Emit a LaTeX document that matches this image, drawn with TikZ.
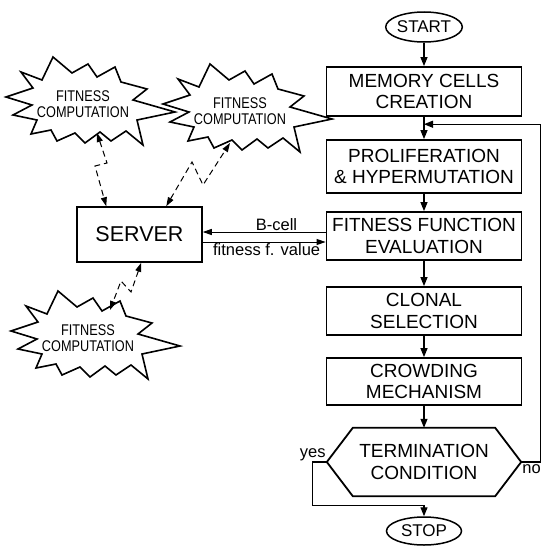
\documentclass[tikz,border=0pt]{standalone}
\usepackage{fontspec}
\setmainfont{Liberation Sans}
\newfontfamily\narrowsans[FakeStretch=0.82]{Liberation Sans}
\usetikzlibrary{arrows.meta,calc,shapes.geometric}

\newcommand\flowfont{\fontsize{19}{21.5}\selectfont}
\newcommand\termfont{\fontsize{17}{19}\selectfont}
\newcommand\srvfont{\fontsize{21.5}{24}\selectfont}
\newcommand\burstfont{\narrowsans\fontsize{15.5}{16}\selectfont}
\newcommand\labfont{\fontsize{16.5}{19}\selectfont}

\tikzset{
  stepbox/.style={draw, line width=1.8pt, minimum width=195pt, minimum height=49pt,
    inner sep=0pt, align=center, font=\flowfont},
  terminal/.style={draw, ellipse, line width=1.5pt, minimum width=75pt,
    minimum height=30pt, inner sep=0pt, font=\termfont},
  decision/.style={minimum width=194pt, minimum height=68pt, inner sep=0pt,
    align=center, font=\flowfont},
  outline/.style={draw, line width=1.8pt, line join=miter},
  serverbox/.style={draw, line width=1.5pt, minimum width=125pt, minimum height=55pt,
    inner sep=0pt, font=\srvfont},
  bursttext/.style={inner sep=0pt, align=center, font=\burstfont},
  burstline/.style={draw, fill=white, line width=1.6pt, line join=miter},
  flow/.style={line width=1.2pt, -{Triangle[length=9pt,width=7pt]}},
  msg/.style={line width=1pt, -{Triangle[length=9pt,width=6pt]}},
  wireless/.style={line width=1pt, dash pattern=on 6pt off 4pt,
    {Triangle[length=9pt,width=6pt]}-{Triangle[length=9pt,width=6pt]}},
  lab/.style={inner sep=1pt, font=\labfont},
  burst/.pic={
    \path[burstline]
      (-30,-47) -- (-11,-31) -- (5,-40) -- (14,-27) -- (32,-37) -- (38,-22)
      -- (64,-15) -- (50,-4) -- (92,8) -- (54,16) -- (60,41) -- (43,27)
      -- (28,37) -- (17,28) -- (2,39) -- (-8,29) -- (-26,37) -- (-32,26)
      -- (-52,30) -- (-46,16) -- (-70,11) -- (-51,1) -- (-77,-7)
      -- (-50,-16) -- (-62,-32) -- (-41,-24) -- cycle;
  }
}

\begin{document}
\begin{tikzpicture}[x=1pt, y=-1pt]
  \useasboundingbox (0,0) rectangle (541,546);

  % main loop of the algorithm
  \node[terminal] (start) at (424,27) {START};
  \node[stepbox] (mem) at (424,91.5) {MEMORY CELLS\\CREATION};
  \node[stepbox, minimum height=53pt] (pro) at (424,166.5) {PROLIFERATION\\\& HYPERMUTATION};
  \node[stepbox, minimum height=48pt] (fit) at (424,236) {FITNESS FUNCTION\\EVALUATION};
  \node[stepbox, minimum height=48pt] (clo) at (424,311) {CLONAL\\SELECTION};
  \node[stepbox, minimum height=47pt] (cro) at (424,381.5) {CROWDING\\MECHANISM};
  \node[decision] (term) at (424,462) {TERMINATION\\CONDITION};
  \path[outline] (term.west) -- ([xshift=26pt]term.north west)
    -- ([xshift=-26pt]term.north east) -- (term.east)
    -- ([xshift=-26pt]term.south east) -- ([xshift=26pt]term.south west) -- cycle;
  \node[terminal, minimum height=28pt] (stop) at (424,531) {STOP};

  \draw[flow] (start) -- (mem);
  \draw[flow] (mem) -- (pro);
  \draw[flow] (pro) -- (fit);
  \draw[flow] (fit) -- (clo);
  \draw[flow] (clo) -- (cro);
  \draw[flow] (cro) -- (term.north);

  % loop back while the condition fails
  \coordinate (back) at ($(mem.south)!0.33!(pro.north)$);
  \draw[flow] (term.east) -- ++(19,0) |- (back);
  \node[lab, anchor=base west] at ($(term.east)+(0,11)$) {no};

  % leave the loop
  \draw[flow] (term.west) -- ++(-14,0) |- ($(stop.north)+(0,-11)$) -- (stop.north);
  \node[lab, anchor=base east] at ($(term.west)+(0,-5)$) {yes};

  % server exchanging data with the evaluation step
  \node[serverbox] (srv) at (139.5,234.5) {SERVER};
  \coordinate (bc) at ($(fit.west)+(0,-4)$);
  \coordinate (fv) at ($(fit.west)+(0,6)$);
  \draw[msg] (bc) -- (srv.east |- bc) node[lab, pos=0.4, above] {B-cell};
  \draw[msg] (srv.east |- fv) -- (fv) node[lab, pos=0.52, below] {fitness f. value};

  % remote fitness computation units
  \pic at (83,104) {burst};
  \node[bursttext] (fc1) at (83,104) {FITNESS\\COMPUTATION};
  \pic at (240,111) {burst};
  \node[bursttext] (fc2) at (240,111) {FITNESS\\COMPUTATION};
  \pic at (88,338) {burst};
  \node[bursttext] (fc3) at (88,338) {FITNESS\\COMPUTATION};

  % wireless links between the server and the computation units
  \draw[wireless] ($(fc1)+(14,29)$) -- (107,163) -- (95,166) -- ($(srv.north west)+(30,0)$);
  \draw[wireless] ($(srv.north west)+(90,0)$) -- (192,162) -- (203,185) -- ($(fc2)+(-10,32)$);
  \draw[wireless] ($(srv.south west)+(65,0)$) -- (131,292) -- (121,281) -- ($(fc3)+(22,-28)$);
\end{tikzpicture}
\end{document}
